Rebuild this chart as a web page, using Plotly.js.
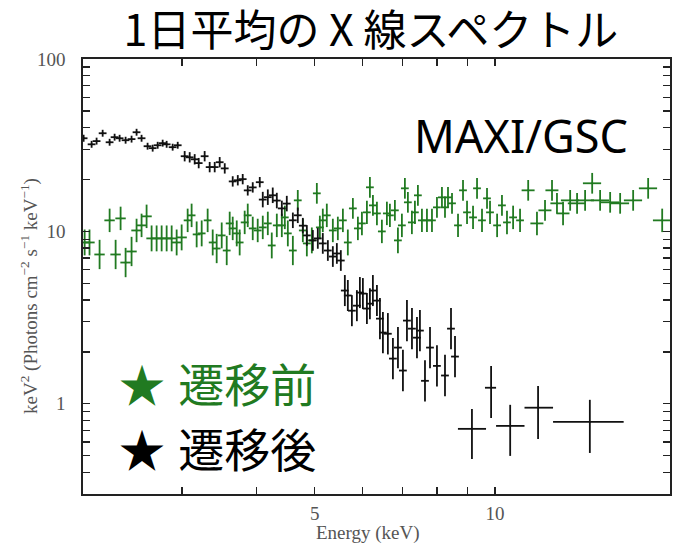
<!DOCTYPE html>
<html><head><meta charset="utf-8">
<script src="https://cdn.plot.ly/plotly-3.0.1.min.js"></script>
<style>html,body{margin:0;padding:0;background:#fff}#chart{width:680px;height:546px}</style>
</head><body><div id="chart"></div>
<script>
// ---- Data: after transition (black) ----
const afterEnergy = [2.055,2.119,2.160,2.211,2.271,2.315,2.360,2.415,2.471,2.519,2.568,2.628,2.680,2.732,2.785,2.828,2.894,2.951,
  3.031,3.090,3.150,3.199,3.273,3.337,3.402,3.468,3.536,3.646,3.718,3.789,3.863,3.938,4.046,
  4.093,4.173,4.253,4.320,4.404,4.489,4.595,4.683,4.775,
  4.849,4.962,5.058,5.156,5.257,5.359,5.442,5.526,
  5.612,5.677,5.766,5.878,5.946,6.015,6.109,6.180,6.251,6.349,
  6.423,6.497,6.622,6.752,6.884,7.017,7.126,7.265,7.406,7.491,7.638,7.787,7.998,8.249,8.442,8.573];
const afterFlux = [34.7,32.0,33.4,37.1,32.9,35.2,34.7,33.8,34.3,37.6,34.7,31.2,30.4,31.6,32.5,32.0,30.8,31.6,
  27.3,26.9,26.2,24.9,27.3,23.6,23.6,25.2,23.2,19.5,19.8,20.1,17.3,18.0,19.3,
  15.3,15.8,16.2,15.1,13.6,14.5,11.6,12.4,10.8,
  9.48,8.87,9.11,8.52,7.75,7.15,7.45,6.78,
  4.54,4.25,3.47,3.71,4.42,4.36,3.57,3.81,4.54,3.97,
  3.12,2.59,2.55,1.83,2.12,1.56,3.04,2.73,2.42,2.66,1.36,2.12,1.66,1.46,2.73,1.88];
const afterErrDex = [0.02,0.02,0.02,0.02,0.02,0.02,0.02,0.02,0.02,0.02,0.02,0.02,0.02,0.02,0.02,0.02,0.02,0.02,
  0.03,0.03,0.03,0.03,0.03,0.03,0.03,0.03,0.03,0.03,0.03,0.03,0.03,0.03,0.03,
  0.045,0.045,0.045,0.045,0.045,0.045,0.045,0.045,0.045,
  0.06,0.06,0.06,0.06,0.06,0.06,0.06,0.06,
  0.09,0.09,0.09,0.09,0.09,0.09,0.09,0.09,0.09,0.09,
  0.12,0.12,0.12,0.12,0.12,0.12,0.12,0.12,0.12,0.12,0.12,0.12,0.12,0.12,0.12,0.12];
// wide high-energy bins of the black spectrum
const afterWideEnergy = [9.15, 9.85, 10.6, 11.8, 14.4];
const afterWideFlux   = [0.716, 1.24, 0.745, 0.95, 0.785];
const afterWideELo    = [8.67, 9.62, 10.04, 11.2, 12.5];
const afterWideEHi    = [9.66, 10.04, 11.2, 12.5, 16.4];
const afterWideFLo    = [0.479, 0.829, 0.499, 0.626, 0.519];
const afterWideFHi    = [0.935, 1.66, 0.987, 1.27, 1.055];

// ---- Data: before transition (green) ----
const beforeEnergy = [2.063,2.102,2.185,2.271,2.324,2.369,2.415,2.471,2.519,2.568,
  2.618,2.669,2.721,2.774,2.828,2.883,2.939,2.996,3.066,3.113,
  3.174,3.236,3.311,3.376,3.428,3.495,3.563,3.604,3.646,3.703,
  3.745,3.818,3.863,3.938,4.014,4.093,4.173,4.237,4.320,4.404,
  4.455,4.507,4.595,4.683,4.775,4.849,4.943,5.039,5.098,5.156,
  5.236,5.359,5.463,5.570,5.677,5.788,5.901,5.993,6.109,6.180,
  6.252,6.349,6.471,6.597,6.674,6.803,6.883,6.989,7.070,7.152,
  7.263,7.348,7.433,7.549,7.696,7.846,7.998,8.153,8.249,8.345,
  8.475,8.673,8.841,8.979,9.189,9.331,9.511,9.696,9.809,10.08,
  10.27,10.47,10.72,11.01,11.36,11.75,12.12,12.45,12.69,12.99,
  13.35,13.71,14.14,14.53,14.98,15.57,16.18,17.01,18.02,19.02];
const beforeFlux = [8.63,8.63,7.35,11.59,7.35,11.90,6.60,7.65,10.13,10.84,
  12.23,9.11,9.11,9.11,9.11,9.11,8.63,9.23,11.59,12.39,
  9.61,9.74,11.59,8.63,7.96,9.48,7.75,11.13,10.41,9.74,
  8.63,11.28,12.39,10.41,10.13,10.55,11.13,8.29,10.84,10.84,
  12.06,9.74,7.75,15.14,10.13,8.52,8.87,16.63,10.55,11.59,
  12.39,10.13,10.41,11.59,8.63,13.60,10.41,11.13,12.90,18.02,
  14.16,12.72,10.0,12.72,12.39,13.25,8.87,10.84,17.78,14.75,
  11.28,12.90,16.19,11.59,11.59,11.59,13.79,15.76,13.79,15.76,
  14.55,10.84,17.31,12.90,12.06,17.78,11.59,15.55,12.90,10.84,
  14.16,11.28,12.06,11.59,17.31,11.13,13.25,17.31,14.55,12.72,
  15.14,14.55,15.14,19.02,15.14,14.75,14.55,15.14,17.78,11.59];
const beforeErrDex = [0.075,0.075,0.085,0.068,0.085,0.068,0.085,0.085,0.068,0.068,
  0.068,0.075,0.075,0.075,0.075,0.075,0.075,0.075,0.068,0.068,
  0.075,0.075,0.068,0.075,0.085,0.075,0.085,0.068,0.068,0.075,
  0.075,0.068,0.068,0.068,0.068,0.068,0.068,0.075,0.068,0.068,
  0.068,0.075,0.085,0.06,0.068,0.075,0.075,0.06,0.068,0.068,
  0.068,0.068,0.068,0.068,0.075,0.06,0.068,0.068,0.068,0.06,
  0.06,0.068,0.068,0.068,0.068,0.06,0.075,0.068,0.06,0.06,
  0.068,0.068,0.06,0.068,0.068,0.068,0.06,0.06,0.06,0.06,
  0.06,0.068,0.06,0.068,0.068,0.06,0.068,0.06,0.068,0.068,
  0.06,0.068,0.068,0.068,0.06,0.068,0.06,0.06,0.06,0.068,
  0.06,0.06,0.06,0.06,0.06,0.06,0.06,0.06,0.06,0.068];
const beforeXErrPct = [2,2,2,2,2,2,2,2,2,2, 2,2,2,2,2,2,2,2,1.5,1.5,
  1.5,1.5,1.5,1.5,1.5,1.5,1.5,1.5,1.5,1.5, 1.5,1.5,1.5,1.5,1.5,1.5,1.5,1.5,1.5,1.5,
  1.5,1.5,1.5,1.5,1.5,1.5,1.5,1.5,1.5,1.5, 1.5,1.5,1.5,1.5,1.5,1.5,1.5,1.5,1.5,1.5,
  1.5,1.5,1.5,1.5,1.5,1.5,1.5,1.5,1.5,1.5, 1.5,1.5,1.5,1.5,1.5,1.5,1.5,1.5,1.5,1.5,
  1.5,1.5,1.5,1.5,1.5,1.5,1.5,1.5,1.5,1.5, 1.5,1.5,1.5,1.5,2.5,2.5,2.5,2.5,2.5,2.5,
  3.5,3.5,3.5,3.5,3.5,3.5,3.5,3.5,3.5,3.5];

// ---- Axis ticks (labelled + unlabelled minor positions) ----
const yTickVals = [0.3,0.4,0.5,0.6,0.7,0.8,0.9,1,2,3,4,5,6,7,8,9,10,20,30,40,50,60,70,80,90,100];
const yTickText = ['','','','','','','','1','','','','','','','','','10','','','','','','','','','100'];
const xTickVals = [3,4,5,6,7,8,9,10];
const xTickText = ['','','5','','','','','10'];

const titleText = '1日平均の X 線スペクトル';
const labelBefore = '★ \u200A遷移前';
const labelAfter = '★ \u200A遷移後';
const instrument = 'MAXI/GSC';

// ---- helpers (layout) ----
const W = 680, H = 546, L = 83, R = 10, T = 59, B = 52;
const pw = W - L - R, ph = H - T - B;
const px2x = p => (p - L) / pw;
const px2y = p => (H - B - p) / ph;

const up = (v, d) => v.map((f, i) => f * (Math.pow(10, d[i]) - 1));
const dn = (v, d) => v.map((f, i) => f * (1 - Math.pow(10, -d[i])));

const green = '#217a21';
const black = '#111111';
const xRange = [Math.log10(2.05), Math.log10(19.6)];
const yRange = [Math.log10(0.3), 2];

const traces = [
  {
    x: beforeEnergy, y: beforeFlux, type: 'scatter', mode: 'markers',
    marker: {size: 2, color: green},
    error_y: {type: 'data', symmetric: false, array: up(beforeFlux, beforeErrDex), arrayminus: dn(beforeFlux, beforeErrDex), color: green, thickness: 1.8, width: 0},
    error_x: {type: 'data', array: beforeEnergy.map((e, i) => e * beforeXErrPct[i] / 100), color: green, thickness: 1.8, width: 0},
    hoverinfo: 'skip', showlegend: false
  },
  {
    x: afterEnergy, y: afterFlux, type: 'scatter', mode: 'markers',
    marker: {size: 2, color: black},
    error_y: {type: 'data', symmetric: false, array: up(afterFlux, afterErrDex), arrayminus: dn(afterFlux, afterErrDex), color: black, thickness: 1.8, width: 0},
    error_x: {type: 'percent', value: 1.5, color: black, thickness: 1.8, width: 0},
    hoverinfo: 'skip', showlegend: false
  },
  {
    x: afterWideEnergy, y: afterWideFlux, type: 'scatter', mode: 'markers',
    marker: {size: 2, color: black},
    error_y: {type: 'data', symmetric: false, array: afterWideFlux.map((f, i) => afterWideFHi[i] - f), arrayminus: afterWideFlux.map((f, i) => f - afterWideFLo[i]), color: black, thickness: 1.8, width: 0},
    error_x: {type: 'data', symmetric: false, array: afterWideEnergy.map((e, i) => afterWideEHi[i] - e), arrayminus: afterWideEnergy.map((e, i) => e - afterWideELo[i]), color: black, thickness: 1.8, width: 0},
    hoverinfo: 'skip', showlegend: false
  }
];

const tickFont = {family: 'Liberation Serif, Times New Roman, serif', size: 19, color: '#555'};
const axisCommon = {
  type: 'log', showgrid: false, zeroline: false, showline: true, mirror: 'ticks',
  linecolor: '#222', linewidth: 1.6, ticks: 'inside', ticklen: 7, tickwidth: 1.3, tickcolor: '#222',
  tickfont: tickFont, tickmode: 'array'
};

const layout = {
  width: W, height: H,
  margin: {l: L, r: R, t: T, b: B},
  paper_bgcolor: '#fff', plot_bgcolor: '#fff',
  title: {text: titleText, font: {family: 'Noto Sans CJK JP', size: 43, color: '#000'},
    x: 371 / W, xanchor: 'center', y: 1 - 31 / H, yanchor: 'middle', xref: 'container', yref: 'container'},
  xaxis: Object.assign({}, axisCommon, {range: xRange, tickvals: xTickVals, ticktext: xTickText, ticklabelstandoff: 2}),
  yaxis: Object.assign({}, axisCommon, {range: yRange, tickvals: yTickVals, ticktext: yTickText, ticklabelstandoff: 12}),
  annotations: [
    {text: instrument, xref: 'paper', yref: 'paper', x: px2x(521), y: px2y(135), xanchor: 'center', yanchor: 'middle',
      showarrow: false, font: {family: 'Noto Sans', size: 45, color: '#000'}},
    {text: labelBefore, xref: 'paper', yref: 'paper', x: px2x(117), y: px2y(382), xanchor: 'left', yanchor: 'middle',
      showarrow: false, font: {family: 'Noto Sans CJK JP', size: 46, color: green}},
    {text: labelAfter, xref: 'paper', yref: 'paper', x: px2x(117), y: px2y(447), xanchor: 'left', yanchor: 'middle',
      showarrow: false, font: {family: 'Noto Sans CJK JP', size: 46, color: '#000'}},
    {text: 'keV<sup>2</sup> (Photons cm<sup>−2</sup> s<sup>−1</sup> keV<sup>−1</sup>)', xref: 'paper', yref: 'paper',
      x: px2x(29), y: px2y(296), xanchor: 'center', yanchor: 'middle', textangle: -90,
      showarrow: false, font: {family: 'Liberation Serif, Times New Roman, serif', size: 19, color: '#555'}},
    {text: 'Energy (keV)', xref: 'paper', yref: 'paper', x: px2x(368), y: px2y(533), xanchor: 'center', yanchor: 'middle',
      showarrow: false, font: {family: 'Liberation Serif, Times New Roman, serif', size: 19, color: '#555'}}
  ]
};

Plotly.newPlot('chart', traces, layout, {displayModeBar: false, staticPlot: true});
</script>
</body></html>
